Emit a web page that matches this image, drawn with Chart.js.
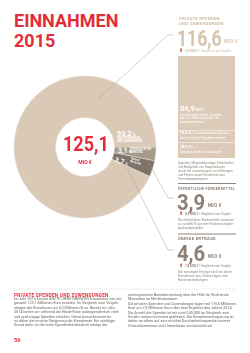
<!DOCTYPE html>
<html><head><meta charset="utf-8">
<script src="https://cdn.jsdelivr.net/npm/chart.js@4"></script>
<style>
html,body{margin:0;padding:0;background:#fff;}
#page{position:relative;width:250px;height:353px;overflow:hidden;font-family:"Roboto",sans-serif;}
.abs{position:absolute;white-space:nowrap;}
.red{color:#e32d3a;}
.cap{font-weight:bold;letter-spacing:0.3px;}
.tiny{font-size:3.6px;line-height:4.1px;color:#8f857c;}
.wt{color:#fff;}
.sx{transform-origin:0 0;}
</style></head>
<body><div id="page">
<div class="abs red" style="left:14px;top:11px;font-size:18px;line-height:20px;font-weight:bold;">EINNAHMEN<br>2015</div>

<div class="abs" style="left:10px;top:72px;width:150px;height:150px;"><canvas id="c" width="150" height="150"></canvas></div>

<div class="abs red sx" style="left:63px;top:133px;font-size:20px;font-weight:bold;line-height:22px;transform:scaleX(0.9);" id="total"></div>
<div class="abs red" style="left:55px;top:159px;width:60px;text-align:center;font-size:5px;font-weight:bold;">MIO €</div>

<!-- segment labels -->
<div class="abs wt" style="left:117px;top:129px;font-size:7.5px;font-weight:bold;">93,2<span style="font-size:4px"> %</span></div>
<div class="abs wt fit" data-w="36" style="left:117px;top:138px;font-size:2.6px;line-height:2.9px;font-weight:bold;">PRIVATE SPENDEN<br>UND ZUWENDUNGEN</div>
<div class="abs wt" style="left:118px;top:147px;font-size:7px;font-weight:bold;">3,1<span style="font-size:4px"> %</span></div>
<div class="abs wt fit" data-w="22" style="left:130px;top:149px;font-size:2.6px;line-height:2.9px;font-weight:bold;">ÖFFENTLICHE FÖR-<br>DERMITTEL</div>
<div class="abs wt" style="left:116px;top:155.5px;font-size:7px;font-weight:bold;transform:rotate(16deg);transform-origin:0 0;">3,7<span style="font-size:4px"> %</span></div>
<div class="abs wt" style="left:131px;top:158px;font-size:2.6px;line-height:2.9px;font-weight:bold;transform:rotate(16deg);transform-origin:0 0;">ÜBRIGE<br>ERTRÄGE</div>

<svg class="abs" style="left:0;top:0;" width="250" height="353">
<polyline points="98,99 168,35 173,35" fill="none" stroke="#a8a29c" stroke-width="0.5"/>
<polyline points="147,160 168,198 174,198" fill="none" stroke="#a8a29c" stroke-width="0.5"/>
<polyline points="127,168 168,250 174,250" fill="none" stroke="#a8a29c" stroke-width="0.5"/>
<line x1="178" y1="183.5" x2="236" y2="183.5" stroke="#6e655e" stroke-width="0.8"/>
<line x1="178" y1="234" x2="236" y2="234" stroke="#6e655e" stroke-width="0.8"/>
<line x1="14" y1="289" x2="236" y2="289" stroke="#d5d0cb" stroke-width="0.6" stroke-dasharray="1,0.8"/>
</svg>

<!-- right panel: private -->
<div class="abs cap" style="left:179px;top:15.5px;font-size:4.2px;line-height:5px;color:#cdb9a3;">PRIVATE SPENDEN<br>UND ZUWENDUNGEN</div>
<div class="abs sx" style="left:177px;top:27px;font-size:22px;font-weight:bold;color:#d7c4ae;line-height:24px;transform:scaleX(0.8);" id="v0"></div>
<div class="abs cap" style="left:224px;top:39px;font-size:4.6px;color:#d7c4ae;">MIO €</div>
<div class="abs" style="left:179px;top:47px;font-size:5px;color:#e32d3a;">⬆</div>
<div class="abs fit" data-w="46" style="left:185px;top:48.5px;font-size:3.6px;color:#cdb9a3;"><b>2,9 MIO €</b> | Vergleich zum Vorjahr</div>
<div class="abs" style="left:178px;top:56px;width:57px;height:102px;background:#dccbb9;"></div>
<div class="abs wt" style="left:180px;top:104px;font-size:7.5px;font-weight:bold;">86,9<span style="font-size:3.2px"> MIO €</span></div>
<div class="abs wt fit" data-w="42" style="left:180px;top:113.5px;font-size:3.3px;line-height:3.9px;">Zweckungebundene Spenden,<br>die zum überwiegenden Teil<br>gespendet haben</div>
<div class="abs" style="left:178px;top:129.5px;width:57px;height:0.6px;background:#eee5dc;"></div>
<div class="abs wt fit" data-w="50" style="left:180px;top:131px;font-size:3.6px;line-height:4px;"><b style="font-size:4.4px">10,8</b><span style="font-size:2.6px"> MIO €</span> Zweckgebundene Spenden,<br>die zum Teil für Projekte bestimmt</div>
<div class="abs" style="left:178px;top:142px;width:57px;height:0.6px;background:#eee5dc;"></div>
<div class="abs wt fit" data-w="42" style="left:180px;top:144.5px;font-size:3.6px;line-height:4px;"><b style="font-size:4.4px">18,9</b><span style="font-size:2.6px"> MIO €</span><br>Sonstige private Zuwendungen</div>
<div class="abs tiny fit" data-w="56" style="left:178px;top:160.5px;">Spenden, Mitgliedsbeiträge, Erbschaften<br>und Bußgelder von Kooperationen<br>sowie die Zuwendungen von Stiftungen<br>und Firmen sowie Einnahmen aus<br>Firmenkooperationen</div>

<!-- public -->
<div class="abs cap fit" data-w="57" style="left:178px;top:185.5px;font-size:4.2px;color:#8d8077;">ÖFFENTLICHE FÖRDERMITTEL</div>
<div class="abs sx" style="left:177px;top:190.5px;font-size:22px;font-weight:bold;color:#8d8077;line-height:24px;transform:scaleX(0.92);" id="v1"></div>
<div class="abs cap" style="left:208px;top:202.5px;font-size:4.6px;color:#8d8077;">MIO €</div>
<div class="abs" style="left:179px;top:210px;font-size:5px;color:#e32d3a;">⬆</div>
<div class="abs fit" data-w="46" style="left:185px;top:211.5px;font-size:3.6px;color:#8d8077;"><b>0,3 MIO €</b> | Vergleich zum Vorjahr</div>
<div class="abs tiny fit" data-w="56" style="left:178px;top:217.5px;">Die öffentlichen Fördermittel stammen<br>zu rund 80 % aus der Finanzierung der<br>Auslandsprojekte.</div>

<!-- other -->
<div class="abs cap" style="left:178px;top:236px;font-size:4.2px;color:#8d8077;">ÜBRIGE ERTRÄGE</div>
<div class="abs sx" style="left:177px;top:241.5px;font-size:22px;font-weight:bold;color:#8d8077;line-height:24px;transform:scaleX(0.92);" id="v2"></div>
<div class="abs cap" style="left:208px;top:253.5px;font-size:4.6px;color:#8d8077;">MIO €</div>
<div class="abs" style="left:179px;top:262px;font-size:5px;color:#e32d3a;">⬆</div>
<div class="abs fit" data-w="46" style="left:185px;top:263.5px;font-size:3.6px;color:#8d8077;"><b>1,8 MIO €</b> | Vergleich zum Vorjahr</div>
<div class="abs tiny fit" data-w="54" style="left:178px;top:269.5px;">Die sonstigen Erträge sind vor allem<br>Einnahmen aus Zinserträgen und<br>Kostenerstattungen.</div>

<!-- bottom text -->
<div class="abs red cap" style="left:14px;top:292.5px;font-size:4.6px;">PRIVATE SPENDEN UND ZUWENDUNGEN</div>
<div class="abs fit" data-w="108" style="left:14px;top:297px;font-size:3.75px;line-height:4.4px;color:#6b645f;">Im Jahr 2015 konnte ÄRZTE OHNE GRENZEN Einnahmen von ins-<br>gesamt 125,1 Millionen Euro erzielen. Im Vergleich zum Vorjahr<br>stiegen die Einnahmen um 5,0 Millionen Euro. Bereits im Jahr<br>2014 hatten wir während der Ebola-Krise außergewöhnlich viele<br>und großzügige Spenden erhalten. Umso bemerkenswerter<br>ist daher die erneute Steigerung der Einnahmen. Ein wichtiger<br>Grund dafür ist die hohe Spendenbereitschaft infolge der</div>
<div class="abs fit" data-w="108" style="left:128px;top:293px;font-size:3.75px;line-height:4.4px;color:#6b645f;">umfangreichen Berichterstattung über die Hilfe für flüchtende<br>Menschen im Mittelmeerraum.<br>Die privaten Spenden und Zuwendungen lagen mit 116,6 Millionen<br>Euro um 2,9 Millionen Euro über dem Ergebnis des Jahres 2014.<br>Die Anzahl der Spender ist mit rund 530.000 im Vergleich zum<br>Vorjahr nahezu konstant geblieben. Die Einnahmensteigerung ist<br>daher vor allem auf eine erhöhte Durchschnittsspende unserer<br>Unterstützerinnen und Unterstützer zurückzuführen.</div>
<div class="abs red" style="left:14px;top:337px;font-size:5.5px;font-weight:bold;">56</div>
</div>
<script>
const categories = ['Öffentliche Fördermittel', 'Übrige Erträge', 'Private Spenden und Zuwendungen'];
const values = [3.9, 4.6, 116.6];
const total = 125.1;
const segColors = ['#a69a8d', '#7f7369', '#dac9b6'];
const fmt = v => v.toFixed(1).replace('.', ',');
document.getElementById('total').textContent = fmt(total);
document.getElementById('v0').textContent = fmt(values[2]);
document.getElementById('v1').textContent = fmt(values[0]);
document.getElementById('v2').textContent = fmt(values[1]);
document.querySelectorAll('.fit').forEach(el => {
  const target = parseFloat(el.dataset.w);
  const w = el.getBoundingClientRect().width;
  if (w > target) { el.style.transformOrigin = '0 0'; el.style.transform = 'scaleX(' + (target / w) + ')'; }
});
new Chart(document.getElementById('c'), {
  type: 'doughnut',
  data: { labels: categories, datasets: [{ data: values, backgroundColor: segColors, borderColor: '#e6dbcf', borderWidth: 0.6 }] },
  options: {
    responsive: false, animation: false, devicePixelRatio: 1,
    rotation: 90, radius: 71, cutout: 31,
    layout: { padding: 0 },
    plugins: { legend: { display: false }, tooltip: { enabled: false } }
  }
});
</script>
</body></html>
